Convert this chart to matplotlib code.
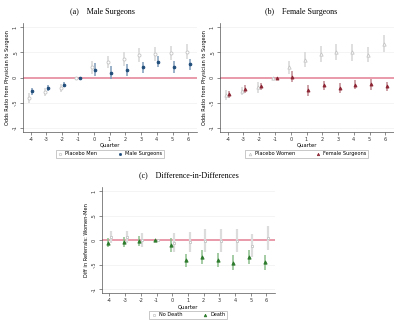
import numpy as np
import matplotlib
matplotlib.use("Agg")
import matplotlib.pyplot as plt
from matplotlib.lines import Line2D

quarters = np.arange(-4, 7)
ytick_vals = [-1, -0.5, 0, 0.5, 1]
ytick_labels = ["-1", "-.5", "0", ".5", "1"]

# panel a
placebo_men = [-0.40, -0.29, -0.20, 0.0, 0.20, 0.31, 0.36, 0.44, 0.47, 0.49, 0.51]
placebo_men_lo = [-0.50, -0.37, -0.28, -0.01, 0.08, 0.19, 0.22, 0.30, 0.33, 0.35, 0.36]
placebo_men_hi = [-0.31, -0.21, -0.12, 0.01, 0.32, 0.43, 0.50, 0.58, 0.61, 0.63, 0.66]
male = [-0.27, -0.21, -0.14, 0.0, 0.16, 0.10, 0.15, 0.20, 0.31, 0.21, 0.26]
male_lo = [-0.34, -0.27, -0.19, -0.01, 0.04, -0.02, 0.04, 0.09, 0.20, 0.10, 0.15]
male_hi = [-0.20, -0.15, -0.09, 0.01, 0.28, 0.22, 0.26, 0.31, 0.42, 0.32, 0.37]

# panel b
placebo_women = [-0.35, -0.26, -0.19, 0.0, 0.20, 0.35, 0.46, 0.50, 0.50, 0.45, 0.67]
placebo_women_lo = [-0.45, -0.34, -0.30, -0.01, 0.07, 0.20, 0.30, 0.34, 0.33, 0.30, 0.50]
placebo_women_hi = [-0.25, -0.18, -0.08, 0.01, 0.33, 0.50, 0.62, 0.66, 0.66, 0.60, 0.84]
female = [-0.33, -0.23, -0.17, 0.0, 0.02, -0.25, -0.15, -0.20, -0.14, -0.13, -0.17]
female_lo = [-0.40, -0.31, -0.24, -0.01, -0.09, -0.36, -0.24, -0.30, -0.23, -0.24, -0.26]
female_hi = [-0.26, -0.15, -0.10, 0.01, 0.13, -0.14, -0.06, -0.10, -0.05, -0.02, -0.08]

# panel c
no_death = [0.07, 0.07, 0.0, 0.0, -0.05, -0.04, -0.01, -0.02, -0.01, -0.11, 0.04]
no_death_lo = [-0.05, -0.05, -0.15, -0.01, -0.24, -0.24, -0.25, -0.25, -0.24, -0.34, -0.20]
no_death_hi = [0.19, 0.19, 0.15, 0.01, 0.14, 0.16, 0.23, 0.22, 0.23, 0.12, 0.28]
death = [-0.05, -0.03, -0.02, 0.0, -0.10, -0.41, -0.34, -0.40, -0.46, -0.34, -0.45]
death_lo = [-0.15, -0.13, -0.12, -0.01, -0.25, -0.54, -0.48, -0.54, -0.61, -0.48, -0.60]
death_hi = [0.05, 0.07, 0.08, 0.01, 0.05, -0.28, -0.20, -0.26, -0.31, -0.20, -0.30]

GRAY = "#c4c4c4"
GRAY_CI = "#dcdcdc"
BLUE = "#1d4a78"
RED = "#8c2433"
GREEN = "#2c7a2c"
PINK = "#e58a9c"

fig = plt.figure(figsize=(3.94, 3.22), dpi=100)


def panel(rect, title, title_x, ylabel, s1, s2, legend_labels):
    ax = fig.add_axes(rect)
    for yv in [-1, -0.5, 0.5, 1]:
        ax.axhline(yv, color="#f0f0f0", lw=0.5, zorder=0)
    ax.axhline(0, color=PINK, lw=1.2, zorder=1)
    for (vals, lo, hi, off, mk, col, cicol, face, ms, ciw) in (s1, s2):
        x = quarters + off
        ax.vlines(x, lo, hi, color=cicol, lw=ciw, zorder=2)
        ax.plot(x, vals, linestyle="none", marker=mk, ms=ms, mec=col,
                mfc=face, mew=0.6, zorder=3)
    ax.set_xlim(-4.5, 6.55)
    ax.set_ylim(-1.08, 1.09)
    ax.set_xticks(quarters)
    ax.set_xticklabels([str(q) for q in quarters])
    ax.set_yticks(ytick_vals)
    ax.set_yticklabels(ytick_labels, rotation=90, va="center")
    for s in ["top", "right"]:
        ax.spines[s].set_visible(False)
    for s in ["left", "bottom"]:
        ax.spines[s].set_color("#555555")
        ax.spines[s].set_linewidth(0.5)
    ax.tick_params(labelsize=3.6, length=2, width=0.4, pad=1.5, colors="#333333")
    ax.set_xlabel("Quarter", fontsize=3.8, labelpad=1.0)
    ax.set_ylabel(ylabel, fontsize=3.6, labelpad=2)
    fig.text(title_x, rect[1] + rect[3] + 0.035, title, ha="center",
             va="center", fontsize=5.8, family="Liberation Serif")
    handles = []
    for (vals, lo, hi, off, mk, col, cicol, face, ms, ciw), lab in zip((s1, s2), legend_labels):
        handles.append(Line2D([], [], linestyle="none", marker=mk, ms=ms * 0.8,
                              mec=col, mfc=face, mew=0.5, label=lab))
    leg = ax.legend(handles=handles, ncol=2, loc="upper center",
                    bbox_to_anchor=(0.5, -0.165), fontsize=3.6, frameon=True,
                    fancybox=False, edgecolor="#888888", handletextpad=0.6,
                    columnspacing=4.0, borderpad=0.35, borderaxespad=0,
                    handlelength=1.0)
    leg.get_frame().set_linewidth(0.4)
    return ax


panel([0.058, 0.591, 0.442, 0.338], "(a)    Male Surgeons", 0.26,
      "Odds Ratio from Physician to Surgeon",
      (placebo_men, placebo_men_lo, placebo_men_hi, -0.1, "o", GRAY, GRAY_CI, "white", 2.2, 1.3),
      (male, male_lo, male_hi, 0.1, "o", BLUE, "#7f9cbb", BLUE, 2.0, 1.1),
      ["Placebo Men", "Male Surgeons"])

panel([0.558, 0.591, 0.442, 0.338], "(b)    Female Surgeons", 0.765,
      "Odds Ratio from Physician to Surgeon",
      (placebo_women, placebo_women_lo, placebo_women_hi, -0.1, "^", GRAY, GRAY_CI, "white", 2.4, 1.3),
      (female, female_lo, female_hi, 0.1, "^", RED, "#c08a92", RED, 2.2, 1.1),
      ["Placebo Women", "Female Surgeons"])

panel([0.258, 0.09, 0.44, 0.33], "(c)    Difference-in-Differences", 0.48,
      "Diff in Referrals: Women-Men",
      (no_death, no_death_lo, no_death_hi, 0.1, "s", GRAY, GRAY_CI, "white", 1.8, 1.6),
      (death, death_lo, death_hi, -0.1, "^", GREEN, "#8cbf8c", GREEN, 2.4, 1.1),
      ["No Death", "Death"])

fig.savefig("out.png", dpi=100)
